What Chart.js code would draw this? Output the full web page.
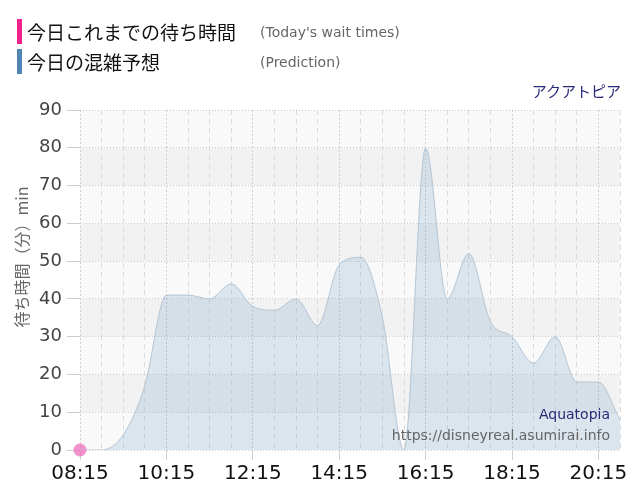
<!DOCTYPE html>
<html>
<head>
<meta charset="utf-8">
<script src="https://cdn.jsdelivr.net/npm/chart.js@4"></script>
<style>
  body { margin: 0; background: #fff; }
  #wrap { position: relative; width: 640px; height: 500px; }
  .leg { position: absolute; left: 17px; height: 25px; display: flex; align-items: center; white-space: nowrap; }
  .bar { width: 5px; height: 25px; margin-right: 5px; }
  .jp { font-family: "Noto Sans CJK JP", sans-serif; font-size: 19px; color: #111; }
  .en { position: absolute; left: 243px; font-family: "DejaVu Sans", sans-serif; font-size: 14px; color: #666; white-space: nowrap; }
  #title { position: absolute; right: 19px; top: 80px; font-family: "Noto Sans CJK JP", sans-serif; font-size: 15px; color: #2a2a78; }
</style>
</head>
<body>
<div id="wrap">
  <canvas id="chart" width="640" height="500"></canvas>
  <div class="leg" style="top:19px"><div class="bar" style="background:#f0208c"></div><span class="jp">今日これまでの待ち時間</span><span class="en">(Today's wait times)</span></div>
  <div class="leg" style="top:49px"><div class="bar" style="background:#4f86b4"></div><span class="jp">今日の混雑予想</span><span class="en">(Prediction)</span></div>
  <div id="title">アクアトピア</div>
</div>
<script>
// half-hour slots, minutes after 08:15
const times = ['08:15','08:45','09:15','09:45','10:15','10:45','11:15','11:45','12:15','12:45','13:15','13:45','14:15',
  '14:45','15:15','15:45','16:15','16:45','17:15','17:45','18:15','18:45','19:15','19:45','20:15','20:45'];
const prediction = [0, 0, 4, 17, 41, 41, 40, 44, 38, 37, 40, 33, 49, 51, 35, 0, 80, 40, 52, 34, 30, 23, 30, 18, 18, 8];
const actualTimes = ['08:15'];
const actual = [0];
const xLabels = ['08:15', '10:15', '12:15', '14:15', '16:15', '18:15', '20:15'];
const yTicks = [0, 10, 20, 30, 40, 50, 60, 70, 80, 90];

function toOffset(t) {
  const [h, m] = t.split(':').map(Number);
  return h * 60 + m - (8 * 60 + 15);
}
function toLabel(off) {
  const total = off + 8 * 60 + 15;
  const h = Math.floor(total / 60), m = total % 60;
  return String(h).padStart(2, '0') + ':' + String(m).padStart(2, '0');
}

const bandsPlugin = {
  id: 'bands',
  beforeDraw(chart) {
    const { ctx, chartArea } = chart;
    const y = chart.scales.y;
    ctx.save();
    for (let i = 0; i < yTicks.length - 1; i++) {
      const top = y.getPixelForValue(yTicks[i + 1]);
      const bottom = y.getPixelForValue(yTicks[i]);
      ctx.fillStyle = (i % 2 === 0) ? '#f9f9f9' : '#f2f2f2';
      ctx.fillRect(chartArea.left, top, chartArea.right - chartArea.left, bottom - top);
    }
    ctx.restore();
  },
  afterDraw(chart) {
    const { ctx, chartArea } = chart;
    ctx.save();
    // axis title
    ctx.translate(22, 257);
    ctx.rotate(-Math.PI / 2);
    ctx.fillStyle = '#666';
    ctx.font = '16px "Noto Sans CJK JP"';
    ctx.textAlign = 'center';
    ctx.textBaseline = 'middle';
    ctx.fillText('待ち時間（分）min', 0, 0);
    ctx.restore();
    ctx.save();
    ctx.textAlign = 'right';
    ctx.textBaseline = 'middle';
    ctx.font = '14px "DejaVu Sans"';
    ctx.fillStyle = '#2a2a78';
    ctx.fillText('Aquatopia', chartArea.right - 10, 415);
    ctx.fillStyle = '#666';
    ctx.fillText('https://disneyreal.asumirai.info', chartArea.right - 10, 436);
    ctx.restore();
  }
};

new Chart(document.getElementById('chart'), {
  type: 'line',
  data: {
    datasets: [{
      label: '今日の混雑予想',
      data: times.map((t, i) => ({ x: toOffset(t), y: prediction[i] })),
      borderColor: '#b4c6d6',
      borderWidth: 1,
      backgroundColor: 'rgba(70, 130, 180, 0.17)',
      fill: 'origin',
      cubicInterpolationMode: 'monotone',
      pointRadius: 0
    }, {
      label: '今日これまでの待ち時間',
      data: actualTimes.map((t, i) => ({ x: toOffset(t), y: actual[i] })),
      backgroundColor: 'rgba(240, 110, 190, 0.75)',
      borderWidth: 0,
      pointRadius: 6.5,
      clip: false
    }]
  },
  options: {
    responsive: false,
    animation: false,
    layout: { padding: { top: 110, right: 20, left: 0, bottom: 0 } },
    plugins: { legend: { display: false }, tooltip: { enabled: false } },
    scales: {
      x: {
        type: 'linear',
        min: 0,
        max: 750,
        afterFit: s => { s.height = 50; },
        afterBuildTicks: s => { s.ticks = xLabels.map(t => ({ value: toOffset(t) })); },
        ticks: {
          autoSkip: false,
          maxRotation: 0,
          padding: 2,
          color: '#111',
          font: { family: 'DejaVu Sans', size: 20 },
          callback: v => toLabel(v)
        },
        grid: { color: '#cfcfcf', tickLength: 10 },
        border: { display: false, dash: [2, 2] }
      },
      x2: {
        type: 'linear',
        position: 'bottom',
        min: 0,
        max: 750,
        afterFit: s => { s.height = 0; },
        afterBuildTicks: s => {
          const ticks = [];
          for (let v = 30; v <= 750; v += 30) if (v % 120 !== 0) ticks.push({ value: v });
          s.ticks = ticks;
        },
        ticks: { display: false },
        grid: { color: '#dcdcdc', drawTicks: false },
        border: { display: false, dash: [5, 4] }
      },
      y: {
        min: 0,
        max: 90,
        afterFit: s => { s.width = 80; },
        ticks: {
          stepSize: 10,
          padding: 5,
          color: '#444',
          font: { family: 'DejaVu Sans', size: 18 }
        },
        grid: { color: '#cccccc', tickLength: 13 },
        border: { display: false, dash: [1, 2] }
      }
    }
  },
  plugins: [bandsPlugin]
});
</script>
</body>
</html>
